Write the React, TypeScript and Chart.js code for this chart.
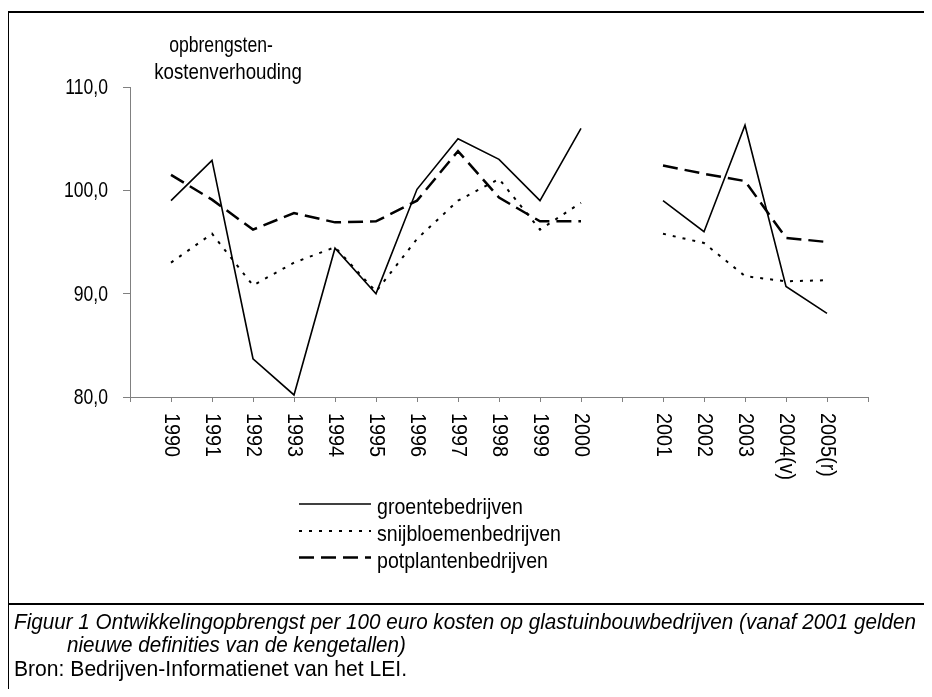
import React, { useEffect, useRef } from "react";
import { Chart, registerables } from "chart.js";

Chart.register(...registerables);

const categories = ["", "1990", "1991", "1992", "1993", "1994", "1995", "1996", "1997", "1998", "1999", "2000", "", "2001", "2002", "2003", "2004(v)", "2005(r)", ""];
const groente = [null, 99.0, 102.9, 83.7, 80.2, 94.4, 90.0, 100.1, 105.0, 103.0, 99.0, 106.0, null, 99.0, 96.0, 106.3, 90.7, 88.1, null];
const snijbloemen = [null, 93.0, 95.8, 90.8, 93.0, 94.5, 90.2, 95.3, 99.0, 101.1, 96.2, 98.8, null, 95.8, 94.9, 91.7, 91.2, 91.3, null];
const potplanten = [null, 101.5, 99.1, 96.2, 97.8, 96.9, 97.0, 99.0, 103.8, 99.3, 97.0, 97.0, null, 102.4, 101.6, 100.9, 95.4, 95.0, null];
const yTickValues = [80, 90, 100, 110];
const seriesNames = ["groentebedrijven", "snijbloemenbedrijven", "potplantenbedrijven"];
const yTitle = ["opbrengsten-", "kostenverhouding"];
const captionLine1 = "Figuur 1 Ontwikkelingopbrengst per 100 euro kosten op glastuinbouwbedrijven (vanaf 2001 gelden";
const captionLine2 = "nieuwe definities van de kengetallen)";
const sourceLine = "Bron: Bedrijven-Informatienet van het LEI.";

const FONT = '"Liberation Sans", Arial, sans-serif';

const styles = [
  { width: 1.6, dash: [] as number[] },
  { width: 2, dash: [3, 7] },
  { width: 2.5, dash: [15, 7] },
];

function scaledText(ctx: CanvasRenderingContext2D, text: string, x: number, y: number, sx: number, align: "left" | "right" | "center") {
  ctx.save();
  ctx.translate(x, y);
  ctx.scale(sx, 1);
  ctx.textAlign = align;
  ctx.fillText(text, 0, 0);
  ctx.restore();
}

export default function App() {
  const ref = useRef<HTMLCanvasElement>(null);

  useEffect(() => {
    const canvas = ref.current!;
    const extra = {
      id: "extra",
      afterDraw(chart: any) {
        const ctx = chart.ctx as CanvasRenderingContext2D;
        const xs = chart.scales.x;
        const ys = chart.scales.y;
        ctx.save();
        ctx.fillStyle = "#000";
        // frame
        ctx.fillRect(7, 11, 925, 2);
        ctx.fillRect(7, 11, 2, 686);
        ctx.fillRect(7, 603, 925, 2);

        ctx.font = `22px ${FONT}`;
        // y tick labels
        ctx.textBaseline = "middle";
        yTickValues.forEach((v) => {
          const y = ys.getPixelForValue(v);
          scaledText(ctx, v.toFixed(1).replace(".", ","), 108, y + 1, 0.8, "right");
        });
        // rotated category labels
        categories.forEach((lab, i) => {
          if (!lab) return;
          const x = xs.getPixelForValue(i);
          ctx.save();
          ctx.translate(x, 413);
          ctx.rotate(Math.PI / 2);
          ctx.scale(0.9, 1);
          ctx.textAlign = "left";
          ctx.textBaseline = "middle";
          ctx.fillText(lab, 0, 0);
          ctx.restore();
        });
        // y title
        ctx.textBaseline = "alphabetic";
        scaledText(ctx, yTitle[0], 221, 52, 0.8, "center");
        scaledText(ctx, yTitle[1], 228, 79, 0.85, "center");
        // legend
        const rows = [504, 531, 557.5];
        seriesNames.forEach((name, i) => {
          const y = rows[i];
          ctx.save();
          ctx.strokeStyle = "#000";
          ctx.lineWidth = styles[i].width;
          ctx.setLineDash(styles[i].dash);
          ctx.beginPath();
          ctx.moveTo(299, y);
          ctx.lineTo(371, y);
          ctx.stroke();
          ctx.restore();
          scaledText(ctx, name, 377, y + 10, 0.89, "left");
        });
        // caption
        ctx.font = `italic 22px ${FONT}`;
        const cs = 902 / ctx.measureText(captionLine1).width;
        scaledText(ctx, captionLine1, 14, 629, cs, "left");
        scaledText(ctx, captionLine2, 67, 652, cs, "left");
        ctx.font = `22px ${FONT}`;
        const bs = 393 / ctx.measureText(sourceLine).width;
        scaledText(ctx, sourceLine, 14, 676, bs, "left");
        ctx.restore();
      },
    };

    const mk = (label: string, data: (number | null)[], i: number) => ({
      label,
      data,
      borderColor: "#000",
      backgroundColor: "#000",
      borderWidth: styles[i].width,
      borderDash: styles[i].dash,
      pointRadius: 0,
      tension: 0,
      fill: false,
      spanGaps: false,
    });

    const chart = new Chart(canvas, {
      type: "line",
      data: {
        labels: categories,
        datasets: [
          mk(seriesNames[0], groente, 0),
          mk(seriesNames[1], snijbloemen, 1),
          mk(seriesNames[2], potplanten, 2),
        ],
      },
      options: {
        responsive: false,
        animation: false,
        devicePixelRatio: 1,
        layout: { padding: { left: 0, top: 87, right: 64, bottom: 0 } },
        plugins: { legend: { display: false }, tooltip: { enabled: false } },
        scales: {
          x: {
            type: "category",
            offset: false,
            grid: { drawOnChartArea: false, drawTicks: true, tickLength: 5, color: "#808080", lineWidth: 1 },
            border: { display: true, color: "#808080", width: 1 },
            ticks: { display: false, autoSkip: false },
            afterFit: (s: any) => { s.height = 300; },
          },
          y: {
            type: "linear",
            min: 80,
            max: 110,
            afterBuildTicks: (s: any) => { s.ticks = yTickValues.map((v) => ({ value: v })); },
            grid: { drawOnChartArea: false, drawTicks: true, tickLength: 7, color: "#808080", lineWidth: 1 },
            border: { display: true, color: "#808080", width: 1 },
            ticks: { display: false },
            afterFit: (s: any) => { s.width = 130; },
          },
        },
      },
      plugins: [extra],
    });
    return () => chart.destroy();
  }, []);

  return (
    <div style={{ position: "relative", width: 924, height: 681 }}>
      <canvas ref={ref} width={932} height={697} style={{ position: "absolute", left: -8, top: -8, width: 932, height: 697 }} />
    </div>
  );
}
